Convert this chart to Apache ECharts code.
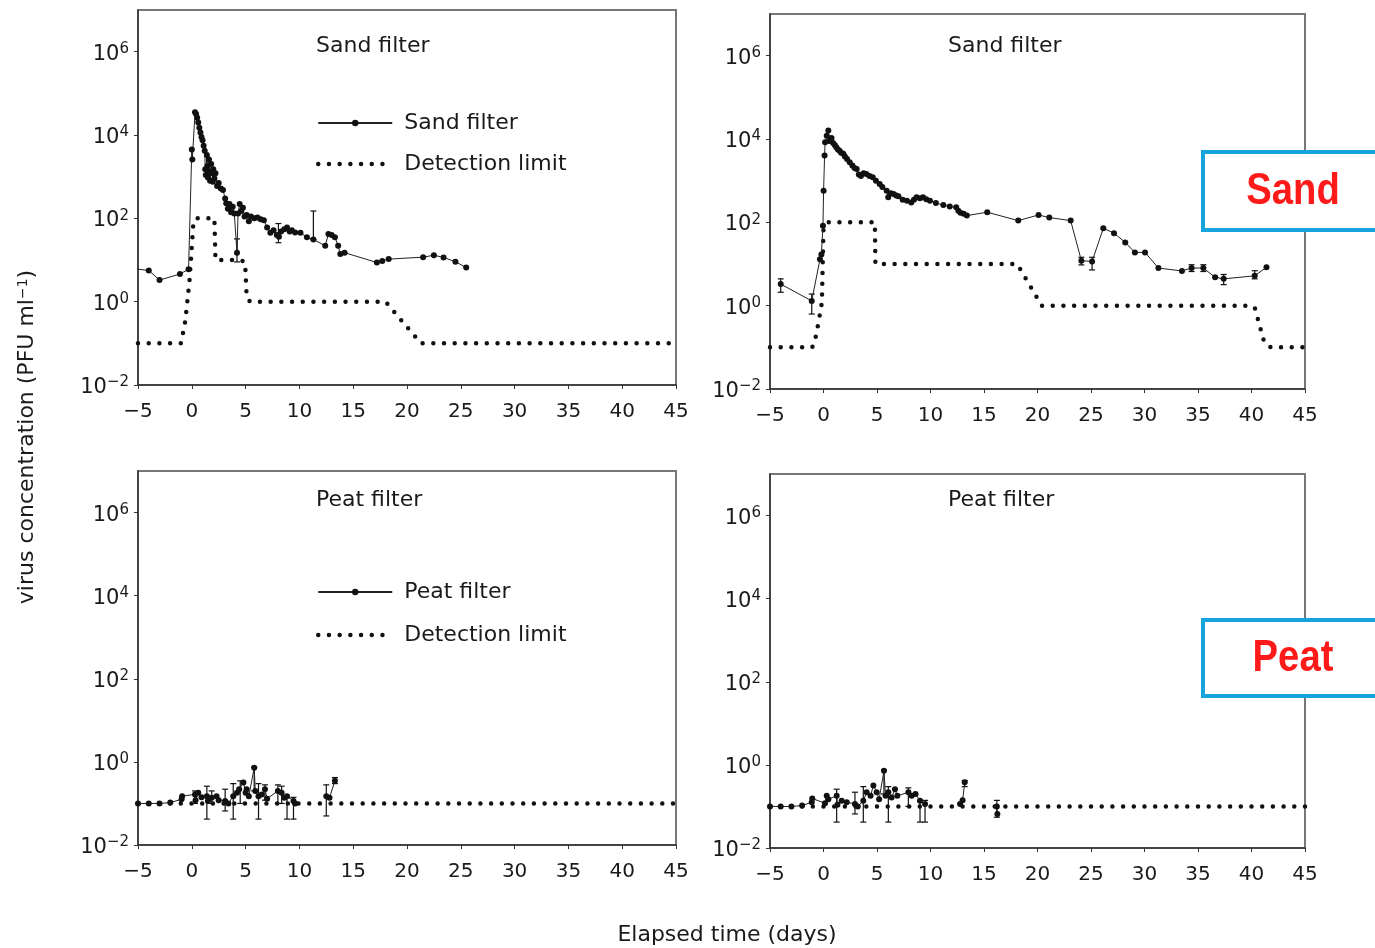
<!DOCTYPE html>
<html><head><meta charset="utf-8">
<script src="https://cdn.jsdelivr.net/npm/echarts@6/dist/echarts.min.js"></script>
<style>html,body{margin:0;padding:0;background:#fff}#c{width:1375px;height:948px}</style>
</head><body><div id="c"></div>
<script>
// ---------- data ----------
const yTickExponents = [-2, 0, 2, 4, 6];
const xMin = -5, xMax = 45, xStep = 5;

const sandLeft = [[-5.4,6.2],[-4,5.6],[-3,3.3],[-1.1,4.6],[-0.3,6],[0,4500],[0.05,2600],[0.3,35000],[0.4,32000],[0.5,26000],[0.6,20000],[0.7,15000],[0.8,11500],[0.9,9000],[1.0,7500],[1.1,5500],[1.2,4200],[1.25,1500],[1.3,1100],[1.4,3300],[1.45,1800],[1.5,950],[1.6,2600],[1.65,1300],[1.7,800],[1.8,2000],[1.9,1200],[1.95,750],[2.0,1500],[2.1,900],[2.2,1200],[2.35,600],[2.5,700],[2.7,520],[2.9,480],[3.1,300],[3.2,230],[3.35,170],[3.5,220],[3.65,140],[3.8,190],[3.95,130],[4.2,15],[4.3,130],[4.45,220],[4.6,150],[4.75,180],[4.9,110],[5.1,120],[5.3,85],[5.5,110],[5.8,100],[6.1,105],[6.4,95],[6.7,90],[7.0,60],[7.3,45],[7.6,52],[7.9,40],[8.1,36],[8.3,48],[8.6,55],[8.85,60],[9.1,48],[9.3,52],[9.6,46],[10.1,45],[10.7,35],[11.3,31],[12.4,22],[12.7,42],[13.0,40],[13.3,35],[13.6,22],[13.8,14],[14.2,15],[17.2,8.7],[17.7,9.5],[18.3,10.5],[21.5,11.7],[22.5,13],[23.4,11.5],[24.5,9.1],[25.5,6.6]];
const sandLeftErr = [[4.2,9,32],[8.05,26,75],[11.3,31,150]];
const detLimitSandLeft = [[-5,0.1],[-1,0.1],[-0.6,0.35],[-0.2,3.5],[0.15,80],[0.4,100],[2.1,100],[2.2,10],[4.4,10],[4.95,9],[5.1,1.3],[5.4,1],[18,1],[21.3,0.1],[45,0.1]];

const sandRight = [[-4.0,3.3],[-1.1,1.3],[-0.33,13],[-0.2,17],[-0.05,83],[0.01,570],[0.1,4000],[0.15,8300],[0.3,12000],[0.45,16000],[0.55,9100],[0.6,9000],[0.75,10500],[0.9,8000],[1.05,7200],[1.2,6300],[1.35,5600],[1.5,5200],[1.65,4700],[1.85,4400],[2.0,3800],[2.2,3300],[2.45,2750],[2.7,2300],[2.9,2000],[3.1,1900],[3.3,1400],[3.5,1300],[3.75,1500],[4.0,1450],[4.3,1300],[4.6,1200],[4.9,1000],[5.25,830],[5.5,700],[5.9,575],[6.05,400],[6.3,500],[6.55,480],[6.8,440],[7.0,420],[7.4,350],[7.8,330],[8.2,300],[8.45,350],[8.7,400],[9.0,380],[9.3,400],[9.6,360],[9.95,330],[10.5,290],[11.2,260],[11.8,240],[12.4,230],[12.6,190],[12.8,170],[13.1,160],[13.4,145],[15.3,175],[18.2,110],[20.1,150],[21.1,130],[23.1,110],[24.1,12],[25.1,11.5],[26.15,72],[27.15,55],[28.2,33],[29.1,19],[30.05,19],[31.3,8],[33.5,6.8],[34.4,8],[35.5,8],[36.6,4.8],[37.4,4.4],[40.3,5.2],[41.4,8.3]];
const sandRightErr = [[-4.0,2.1,4.4],[-1.1,0.63,1.9],[24.1,9.5,14.5],[25.1,7.2,14.5],[34.4,6.6,9.6],[35.5,6.6,9.6],[37.4,3.2,5.6],[40.3,4.4,6.9]];
const detLimitSandRight = [[-5,0.1],[-1.05,0.1],[-0.7,0.19],[-0.33,0.63],[-0.15,1.2],[0,80],[0.4,100],[4.8,100],[4.85,10],[18.1,10],[20.4,1],[39.7,1],[40.3,0.9],[41.2,0.13],[41.8,0.1],[45,0.1]];

const peatLeft = [[-5,0.1],[-4,0.1],[-3,0.1],[-2,0.105],[-0.95,0.126],[-0.9,0.15],[0.3,0.165],[0.35,0.12],[0.6,0.18],[0.9,0.14],[1.4,0.15],[1.5,0.115],[1.85,0.137],[2.3,0.15],[2.5,0.12],[3.1,0.115],[3.4,0.1],[3.85,0.15],[4.2,0.18],[4.4,0.22],[4.8,0.32],[5.0,0.18],[5.1,0.22],[5.3,0.15],[5.8,0.72],[5.9,0.2],[6.2,0.15],[6.5,0.165],[6.8,0.22],[7.0,0.13],[8.0,0.2],[8.35,0.18],[8.6,0.137],[8.85,0.15],[9.45,0.115],[9.6,0.1],[11,null],[12.5,0.15],[12.8,0.137],[13.3,0.35]];
const peatLeftErr = [[0.3,0.1,0.2],[1.4,0.042,0.26],[1.85,0.1,0.2],[3.1,0.066,0.22],[3.85,0.042,0.3],[4.5,0.1,0.35],[5.8,0.2,0.75],[6.2,0.042,0.3],[6.8,0.12,0.28],[8.0,0.1,0.28],[8.35,0.1,0.26],[8.85,0.042,0.14],[9.45,0.042,0.14],[12.5,0.05,0.28],[13.3,0.3,0.42]];
const detLimitPeatLeft = [[-5,0.1],[45,0.1]];

const peatRight = [[-5,0.1],[-4,0.1],[-3,0.1],[-2,0.105],[-1.1,0.126],[-1.05,0.155],[0.14,0.12],[0.3,0.18],[0.45,0.15],[1.23,0.18],[1.3,0.11],[1.7,0.137],[2.17,0.126],[2.94,0.115],[3.2,0.1],[3.72,0.137],[4.03,0.22],[4.4,0.18],[4.66,0.32],[4.97,0.22],[5.2,0.15],[5.65,0.72],[5.8,0.18],[6.06,0.22],[6.37,0.165],[6.68,0.26],[6.9,0.18],[7.93,0.22],[8.24,0.18],[8.6,0.2],[9.02,0.137],[9.49,0.115],[11,null],[12.76,0.115],[13.0,0.14],[13.2,0.38],[15,null],[16.2,0.1],[16.25,0.066]];
const peatRightErr = [[1.23,0.042,0.26],[2.94,0.066,0.22],[3.72,0.042,0.3],[5.65,0.2,0.75],[6.06,0.042,0.3],[7.93,0.1,0.28],[9.02,0.042,0.14],[9.49,0.042,0.14],[13.2,0.3,0.42],[16.2,0.055,0.14]];
const detLimitPeatRight = [[-5,0.1],[45,0.1]];

const panelTitles = ['Sand filter', 'Sand filter', 'Peat filter', 'Peat filter'];

// ---------- styling / layout ----------
const F = "'DejaVu Sans', sans-serif";
const INK = '#1a1a1a';
const grids = [
  {left:138, top:10, width:538, height:375},
  {left:770, top:14, width:535, height:375},
  {left:138, top:471, width:538, height:374},
  {left:770, top:474, width:535, height:374}
];
const titlePos = [[316,35],[948,35],[316,489],[948,489]];
const detLineStyle = {color:'#111', width:4.5, type:[0,10.7], cap:'round'};

function supText(e){ return e < 0 ? '\u2212' + (-e) : String(e); }

function xAx(gi){
  return {type:'value', gridIndex:gi, min:xMin, max:xMax, interval:xStep,
    axisLine:{show:true, onZero:false, lineStyle:{color:'#333', width:1.5}},
    axisTick:{show:true, length:4, lineStyle:{color:'#333'}},
    splitLine:{show:false},
    axisLabel:{margin:17, fontFamily:F, fontSize:20, color:INK,
      formatter: v => v < 0 ? '\u2212' + (-v) : String(v)}};
}
function yAx(gi){
  return {type:'log', logBase:100, gridIndex:gi, min:0.01, max:1e7,
    axisLine:{show:true, onZero:false, lineStyle:{color:'#333', width:1.5}},
    axisTick:{show:true, length:4, lineStyle:{color:'#333'}},
    splitLine:{show:false}, minorTick:{show:false},
    axisLabel:{margin:9, showMaxLabel:false, padding:[5,0,0,0],
      formatter: v => { const e = Math.round(Math.log10(v)); return yTickExponents.includes(e) ? '{b|10}{s|' + supText(e) + '}' : ''; },
      rich:{ b:{fontFamily:F, fontSize:21, color:INK, lineHeight:25},
             s:{fontFamily:F, fontSize:15, color:INK, verticalAlign:'top', lineHeight:15} }}};
}
function dataSeries(name, data, gi){
  return {type:'line', name, data, xAxisIndex:gi, yAxisIndex:gi, symbol:'circle', symbolSize:6,
    showAllSymbol:true, connectNulls:false, clip:true, itemStyle:{color:'#111'}, lineStyle:{color:'#222', width:1},
    emphasis:{disabled:true}, z:4};
}
function detSeries(data, gi){
  return {type:'line', name:'Detection limit', data, xAxisIndex:gi, yAxisIndex:gi, symbol:'none',
    itemStyle:{color:'#111'}, lineStyle:detLineStyle, emphasis:{disabled:true}, z:2};
}
function errSeries(data, gi){
  return {type:'custom', data, xAxisIndex:gi, yAxisIndex:gi, silent:true, z:3,
    encode:{x:0, y:[1,2]},
    renderItem:(params, api) => {
      const x = api.value(0), a = api.coord([x, api.value(1)]), b = api.coord([x, api.value(2)]);
      const w = 3, st = {stroke:'#111', lineWidth:1.2};
      return {type:'group', children:[
        {type:'line', shape:{x1:a[0], y1:a[1], x2:b[0], y2:b[1]}, style:st},
        {type:'line', shape:{x1:a[0]-w, y1:a[1], x2:a[0]+w, y2:a[1]}, style:st},
        {type:'line', shape:{x1:b[0]-w, y1:b[1], x2:b[0]+w, y2:b[1]}, style:st}]};
    }};
}

const legendBase = {orient:'vertical', padding:0, itemWidth:74, itemHeight:8, selectedMode:false,
  textStyle:{fontFamily:F, fontSize:22, color:INK, padding:[0,0,0,7]}};
const detLegendItem = {name:'Detection limit', lineStyle:detLineStyle,
  itemStyle:{color:'rgba(0,0,0,0)', borderColor:'rgba(0,0,0,0)', borderWidth:0}};

const option = {
  animation:false,
  backgroundColor:'#fff',
  grid: grids.map(g => Object.assign({show:true, borderColor:'#777', borderWidth:2, containLabel:false}, g)),
  xAxis: [0,1,2,3].map(xAx),
  yAxis: [0,1,2,3].map(yAx),
  title: panelTitles.map((t,i) => ({text:t, left:titlePos[i][0], top:titlePos[i][1], padding:0,
    textStyle:{fontFamily:F, fontSize:22, fontWeight:'normal', color:INK}})),
  legend: [
    Object.assign({}, legendBase, {data:['Sand filter', detLegendItem], left:316, top:112, itemGap:19}),
    Object.assign({}, legendBase, {data:['Peat filter', detLegendItem], left:316, top:581, itemGap:21})
  ],
  series: [
    detSeries(detLimitSandLeft, 0), errSeries(sandLeftErr, 0), dataSeries('Sand filter', sandLeft, 0),
    detSeries(detLimitSandRight, 1), errSeries(sandRightErr, 1), dataSeries('Sand filter', sandRight, 1),
    detSeries(detLimitPeatLeft, 2), errSeries(peatLeftErr, 2), dataSeries('Peat filter', peatLeft, 2),
    detSeries(detLimitPeatRight, 3), errSeries(peatRightErr, 3), dataSeries('Peat filter', peatRight, 3)
  ],
  graphic: [
    {type:'text', x:27, y:437, rotation:Math.PI/2, z:10,
      style:{text:'virus concentration (PFU ml{s|\u22121})', fontFamily:F, fontSize:22, fill:INK,
        align:'center', verticalAlign:'middle',
        rich:{s:{fontFamily:F, fontSize:14, fill:INK, verticalAlign:'top', lineHeight:14}}}},
    {type:'text', x:727, y:935, z:10,
      style:{text:'Elapsed time (days)', fontFamily:F, fontSize:22, fill:INK, align:'center', verticalAlign:'middle'}},
    {type:'rect', z:20, shape:{x:1203, y:152, width:200, height:78},
      style:{fill:'#fff', stroke:'#17a3db', lineWidth:4}},
    {type:'text', x:1293, y:192, scaleX:0.85, z:21,
      style:{text:'Sand', fontFamily:"'Liberation Sans', sans-serif", fontWeight:'bold', fontSize:45, fill:'#ff1a1a', align:'center', verticalAlign:'middle'}},
    {type:'rect', z:20, shape:{x:1203, y:620, width:200, height:76},
      style:{fill:'#fff', stroke:'#17a3db', lineWidth:4}},
    {type:'text', x:1293, y:659, scaleX:0.85, z:21,
      style:{text:'Peat', fontFamily:"'Liberation Sans', sans-serif", fontWeight:'bold', fontSize:45, fill:'#ff1a1a', align:'center', verticalAlign:'middle'}}
  ]
};
const chart = echarts.init(document.getElementById('c'), null, {renderer:'canvas'});
chart.setOption(option);
</script>
</body></html>
